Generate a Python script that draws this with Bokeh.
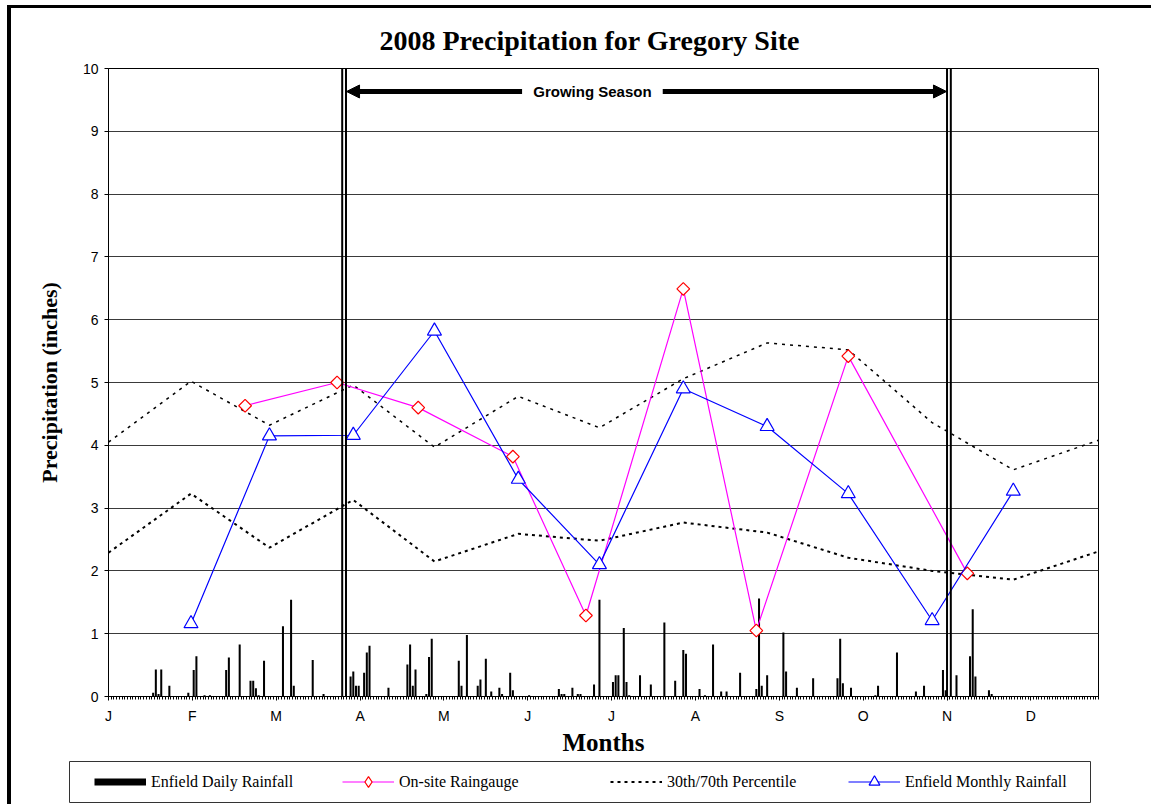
from bokeh.plotting import figure
from bokeh.layouts import column, row
from bokeh.models import (FixedTicker, Span, Arrow, NormalHead, Label, Legend, LegendItem,
                          Title, BoxAnnotation)
from bokeh.embed import file_html
from bokeh.resources import INLINE

# ---------------- data ----------------
# Enfield daily rainfall (day of year 2008, inches)
rain_day = [17, 18, 19, 20, 23, 30, 32, 33, 36, 38, 44, 45, 49, 53, 54, 55, 56, 58,
            65, 68, 69, 76, 80,
            90, 91, 92, 93, 95, 96, 97, 104, 111, 112, 113, 114, 118, 119, 120,
            130, 131, 133, 137, 138, 140, 142, 145, 146, 149, 150, 156,
            167, 168, 169, 172, 174, 175, 180, 182,
            187, 188, 189, 191, 192, 193, 197, 201, 206, 210, 213, 214, 219, 221,
            224, 227, 229, 234, 240, 241, 242, 244, 250, 251, 255, 261,
            270, 271, 272, 275, 284, 285, 292, 299, 302, 309, 310,
            314, 319, 320, 321, 326, 327]
rain_in = [0.06, 0.43, 0.04, 0.43, 0.17, 0.06, 0.42, 0.64, 0.02, 0.02, 0.42, 0.62, 0.83, 0.25, 0.25, 0.13, 0.02, 0.57,
           1.12, 1.54, 0.17, 0.58, 0.04,
           0.32, 0.40, 0.17, 0.17, 0.38, 0.70, 0.81, 0.14, 0.51, 0.83, 0.17, 0.43, 0.04, 0.63, 0.92,
           0.57, 0.17, 0.98, 0.17, 0.27, 0.60, 0.08, 0.14, 0.04, 0.38, 0.10, 0.02,
           0.12, 0.04, 0.04, 0.14, 0.04, 0.04, 0.19, 1.54,
           0.23, 0.34, 0.34, 1.09, 0.23, 0.02, 0.34, 0.19, 1.18, 0.25, 0.74, 0.68, 0.12, 0.02,
           0.83, 0.08, 0.08, 0.38, 0.12, 1.56, 0.17, 0.34, 1.02, 0.40, 0.14, 0.29,
           0.29, 0.92, 0.21, 0.14, 0.02, 0.17, 0.70, 0.08, 0.17, 0.42, 0.10,
           0.34, 0.64, 1.39, 0.32, 0.10, 0.04]

# monthly totals plotted at month end
month_end_day = [31, 60, 91, 121, 152, 182, 213, 244, 274, 305, 335]
enfield_monthly = [1.16, 4.15, 4.16, 5.82, 3.46, 2.10, 4.90, 4.30, 3.23, 1.21, 3.27]

onsite_day = [51, 85, 115, 150, 177, 213, 240, 274, 318]
onsite_in = [4.63, 5.00, 4.60, 3.82, 1.29, 6.49, 1.05, 5.42, 1.96]

pct_day = [0.5] + month_end_day + [366.5]
pct70 = [4.05, 5.02, 4.32, 4.96, 3.97, 4.78, 4.28, 5.06, 5.63, 5.52, 4.36, 3.61, 4.08]
pct30 = [2.29, 3.23, 2.37, 3.13, 2.15, 2.59, 2.48, 2.77, 2.61, 2.21, 2.00, 1.86, 2.31]

month_letters = ["J", "F", "M", "A", "M", "J", "J", "A", "S", "O", "N", "D"]
label_every = 31
season_start = 87.6
season_end = 311.2

legend_labels = ["Enfield Daily Rainfall", "On-site Raingauge",
                 "30th/70th Percentile", "Enfield Monthly Rainfall"]

# ---------------- styles ----------------
SERIF = "Liberation Serif"
SANS = "Liberation Sans"
BAR = dict(line_width=7, line_color="black", line_cap="butt")
ONSITE_LINE = dict(line_color="#FF00FF", line_width=1.2)
ONSITE_PT = dict(line_color="#FF0000", fill_color="white", line_width=1.2)
MON_LINE = dict(line_color="#0000FF", line_width=1.2)
MON_PT = dict(marker="triangle", line_color="#0000FF", fill_color="white", line_width=1.2)
P30 = dict(line_color="black", line_width=2, line_dash="3 4")
P70 = dict(line_color="black", line_width=1.5, line_dash="3 5")

# ---------------- main figure ----------------
p = figure(width=1140, height=750, x_range=(0.5, 366.5), y_range=(0, 10),
           output_backend="svg", toolbar_location=None,
           min_border_left=97, min_border_right=53, min_border_top=60, min_border_bottom=61)
p.background_fill_color = "white"
p.border_fill_color = "white"
p.outline_line_color = "black"
p.outline_line_width = 1

p.title = Title(text="2008 Precipitation for Gregory Site", align="left", offset=271,
                text_font=SERIF, text_font_style="bold", text_font_size="28px",
                text_color="black", standoff=26)

p.xgrid.visible = False
p.ygrid.grid_line_color = "#3a3a3a"
p.ygrid.grid_line_width = 1

p.yaxis.ticker = FixedTicker(ticks=list(range(0, 11)))
p.yaxis.axis_label = "Precipitation (inches)"
p.yaxis.axis_label_text_font = SERIF
p.yaxis.axis_label_text_font_style = "bold"
p.yaxis.axis_label_text_font_size = "22px"
p.yaxis.axis_label_text_color = "black"
p.yaxis.axis_label_standoff = 18
p.yaxis.major_label_text_font = SANS
p.yaxis.major_label_text_font_size = "14px"
p.yaxis.major_label_text_color = "black"
p.yaxis.major_label_standoff = 6
p.yaxis.major_tick_out = 4
p.yaxis.major_tick_in = 0
p.yaxis.minor_tick_line_color = None
p.yaxis.axis_line_color = "black"

tick_pos = [0.5 + label_every * i for i in range(len(month_letters))]
p.xaxis.ticker = FixedTicker(ticks=tick_pos, minor_ticks=[0.5 + i for i in range(367)])
p.xaxis.major_label_overrides = {t: m for t, m in zip(tick_pos, month_letters)}
p.xaxis.axis_label = "Months"
p.xaxis.axis_label_text_font = SERIF
p.xaxis.axis_label_text_font_style = "bold"
p.xaxis.axis_label_text_font_size = "25px"
p.xaxis.axis_label_text_color = "black"
p.xaxis.axis_label_standoff = 2
p.xaxis.major_label_text_font = SANS
p.xaxis.major_label_text_font_size = "14px"
p.xaxis.major_label_text_color = "black"
p.xaxis.major_label_standoff = 7
p.xaxis.major_tick_out = 4
p.xaxis.major_tick_in = 0
p.xaxis.minor_tick_out = 3
p.xaxis.minor_tick_in = 0
p.xaxis.minor_tick_line_color = "black"
p.xaxis.axis_line_color = "black"

p.vbar(x=rain_day, top=rain_in, width=0.75, fill_color="black", line_color=None)
p.line(pct_day, pct70, **P70)
p.line(pct_day, pct30, **P30)
p.line(onsite_day, onsite_in, **ONSITE_LINE)
p.scatter(onsite_day, onsite_in, marker="square", angle=0.785398, size=9, **ONSITE_PT)
p.line(month_end_day, enfield_monthly, **MON_LINE)
p.scatter(month_end_day, enfield_monthly, size=14, **MON_PT)

for loc in (season_start - 0.7, season_start + 0.7, season_end - 0.7, season_end + 0.7):
    p.add_layout(Span(location=loc, dimension="height", line_color="black", line_width=2))

arrow_y = 9.634
text_x = (season_start + season_end) / 2 - 20
p.add_layout(Arrow(end=NormalHead(size=13, fill_color="black", line_color="black"),
                   x_start=text_x - 26, y_start=arrow_y, x_end=season_start + 0.9, y_end=arrow_y,
                   line_width=5, line_color="black"))
p.add_layout(Arrow(end=NormalHead(size=13, fill_color="black", line_color="black"),
                   x_start=text_x + 26, y_start=arrow_y, x_end=season_end - 0.9, y_end=arrow_y,
                   line_width=5, line_color="black"))
p.add_layout(Label(x=text_x, y=arrow_y, text="Growing Season", text_align="center",
                   text_baseline="middle", text_font=SANS, text_font_style="bold",
                   text_font_size="15px", text_color="black"))

# ---------------- legend strip (pixel-unit ranges) ----------------
lg = figure(width=1140, height=46, x_range=(0, 1140), y_range=(0, 46),
            output_backend="svg", toolbar_location=None,
            x_axis_location=None, y_axis_location=None,
            min_border_left=0, min_border_right=0, min_border_top=0, min_border_bottom=0)
lg.grid.visible = False
lg.outline_line_color = None
lg.background_fill_color = "white"
lg.border_fill_color = "white"

# legend keys: same series, hidden in this strip (only their legend glyphs are shown)
k_bar = lg.line(rain_day, rain_in, visible=False, **BAR)
k_on_l = lg.line(onsite_day, onsite_in, visible=False, **ONSITE_LINE)
k_on_p = lg.scatter(onsite_day, onsite_in, marker="diamond", visible=False, **ONSITE_PT)
k_pct = lg.line(pct_day, pct30, visible=False, **P30)
k_mon_l = lg.line(month_end_day, enfield_monthly, visible=False, **MON_LINE)
k_mon_p = lg.scatter(month_end_day, enfield_monthly, visible=False, **MON_PT)

lg.add_layout(BoxAnnotation(left=58, right=1079, bottom=2, top=43, fill_alpha=0,
                            line_color="#333333", line_width=1, line_alpha=1))

key_sets = [[k_bar], [k_on_l, k_on_p], [k_pct], [k_mon_l, k_mon_p]]
key_x = [83, 331, 599, 837]
for lab, rs, kx in zip(legend_labels, key_sets, key_x):
    lg.add_layout(Legend(items=[LegendItem(label=lab, renderers=rs)],
                         location=(kx, 9), orientation="horizontal",
                         glyph_width=52, glyph_height=27, label_standoff=5,
                         padding=0, margin=0, border_line_color=None,
                         background_fill_alpha=0, inactive_fill_alpha=0,
                         label_text_font=SERIF, label_text_font_size="16px",
                         label_text_color="black"))

layout = column(p, row(lg), spacing=0)
layout.styles = {"margin-left": "7px", "margin-top": "5px",
                 "border-left": "4px solid black", "border-top": "3px solid black"}

open("out.html", "w").write(file_html(layout, INLINE))
